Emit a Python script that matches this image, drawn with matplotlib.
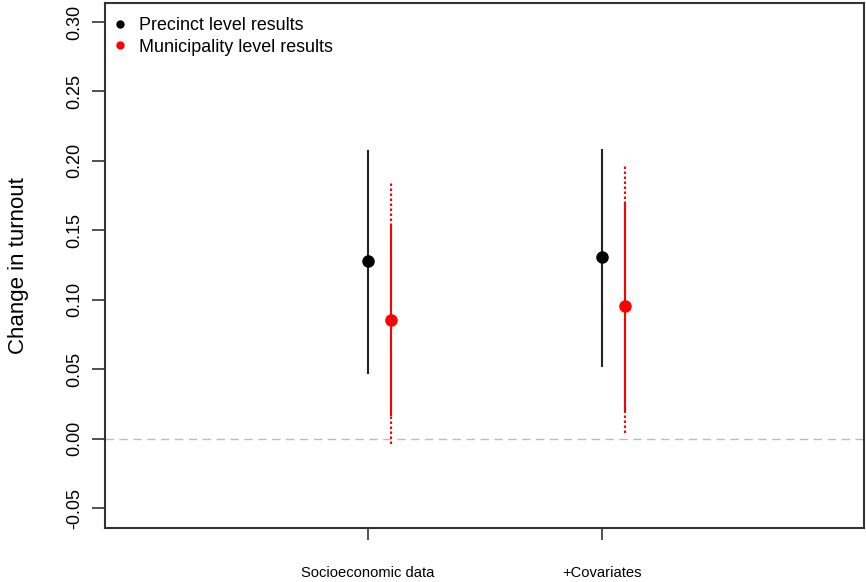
import matplotlib
matplotlib.use("Agg")
import matplotlib.pyplot as plt
from matplotlib.lines import Line2D

plt.rcParams['font.family'] = ['Liberation Sans', 'DejaVu Sans']

# ---- data ----
categories = ["Socioeconomic data", "+Covariates"]
positions = [1, 2]
offset = 0.1

precinct_est = [0.1276, 0.1306]
precinct_lo = [0.0472, 0.0527]
precinct_hi = [0.2069, 0.2079]

muni_est = [0.0858, 0.0959]
muni_lo_inner = [0.0168, 0.0204]
muni_hi_inner = [0.1535, 0.1690]
muni_lo_outer = [-0.0036, 0.0040]
muni_hi_outer = [0.1842, 0.1966]

yticks = [-0.05, 0.00, 0.05, 0.10, 0.15, 0.20, 0.25, 0.30]
legend_labels = ["Precinct level results", "Municipality level results"]

# ---- figure ----
fig = plt.figure(figsize=(8.66, 5.82), dpi=100)
ax = fig.add_axes([105.3 / 866, (582 - 527.7) / 582, (864 - 105.3) / 866, (527.7 - 2.5) / 582])

ax.axhline(0, color="#bdbdbd", lw=1.0, ls=(0, (6, 4)), zorder=1)

for i, x in enumerate(positions):
    # precinct
    ax.plot([x, x], [precinct_lo[i], precinct_hi[i]], color="#222222", lw=1.5, zorder=2)
    ax.plot(x, precinct_est[i], 'o', color="black", ms=8, zorder=3)
    # municipality
    xm = x + offset
    ax.plot([xm, xm], [muni_hi_inner[i], muni_hi_outer[i]], color="red", lw=1.5, ls=(0, (1.2, 1.2)), zorder=2)
    ax.plot([xm, xm], [muni_lo_outer[i], muni_lo_inner[i]], color="red", lw=1.5, ls=(0, (1.2, 1.2)), zorder=2)
    ax.plot([xm, xm], [muni_lo_inner[i], muni_hi_inner[i]], color="red", lw=1.5, zorder=2)
    ax.plot(xm, muni_est[i], 'o', color="red", ms=8, zorder=3)

ax.set_xlim(-0.12, 3.12)
ax.set_ylim(-0.064, 0.314)

ax.set_xticks(positions)
ax.set_xticklabels(categories, fontsize=10.6)
ax.set_yticks(yticks)
ax.set_yticklabels([f"{v:.2f}" for v in yticks], fontsize=13, rotation=90, va="center")

ax.tick_params(axis='x', length=8.6, width=1.2, pad=19, colors="#333333", labelcolor="black")
ax.tick_params(axis='y', length=9.4, width=1.2, pad=6.5, colors="#333333", labelcolor="black")

for s in ax.spines.values():
    s.set_color("#333333")
    s.set_linewidth(1.5)

ax.set_ylabel("Change in turnout", fontsize=16)
ax.yaxis.set_label_coords(-76 / 759, 0.5)

handles = [Line2D([], [], marker='o', ls='none', color='black', ms=5),
           Line2D([], [], marker='o', ls='none', color='red', ms=5)]
ax.legend(handles, legend_labels, loc="upper left", frameon=False, fontsize=12.9,
          handlelength=0.6, handletextpad=0.75, labelspacing=0.25,
          bbox_to_anchor=(-0.011, 1.006), borderaxespad=0.6)

fig.savefig("out.png", dpi=100)
